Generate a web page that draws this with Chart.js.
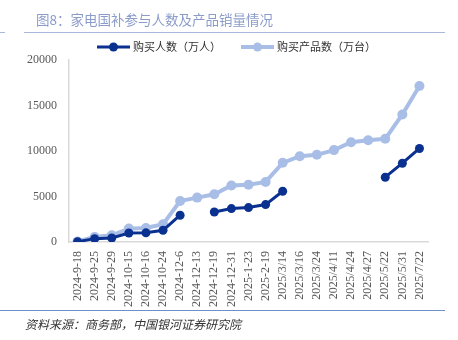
<!DOCTYPE html>
<html>
<head>
<meta charset="utf-8">
<script src="https://cdn.jsdelivr.net/npm/chart.js@4/dist/chart.umd.min.js"></script>
<style>
  html, body { margin: 0; padding: 0; background: #fff; }
  #wrap { position: relative; width: 458px; height: 340px; }
</style>
</head>
<body>
<div id="wrap"><canvas id="c" width="458" height="340"></canvas></div>
<script>
    var dates = ["2024-9-18", "2024-9-25", "2024-9-29", "2024-10-15", "2024-10-16", "2024-10-24",
        "2024-12-6", "2024-12-13", "2024-12-19", "2024-12-31", "2025-1-23", "2025-2-19",
        "2025/3/14", "2025/3/16", "2025/3/24", "2025/4/11", "2025/4/24", "2025/4/27",
        "2025/5/22", "2025/5/31", "2025/7/22"];
    // 购买人数（万人）
    var buyers = [30, 370, 440, 990, 1010, 1290, 2940, null, 3300, 3670, 3780, 4110,
        5580, null, null, null, null, null, 7120, 8660, 10280];
    // 购买产品数（万台）
    var products = [50, 550, 740, 1470, 1540, 1950, 4510, 4880, 5250, 6200, 6300, 6600,
        8700, 9430, 9580, 10100, 10970, 11190, 11340, 14020, 17140];
    var seriesNames = ["购买人数（万人）", "购买产品数（万台）"];
    var yTicks = [0, 5000, 10000, 15000, 20000];

    var DARK = '#0b3190', LIGHT = '#a9bee6';
    var cjk = '"Noto Sans CJK SC", sans-serif';
    var serif = 'Liberation Serif, serif';
    Chart.defaults.font.family = serif;

    // title, rules, source text and legend
    var decor = {
        id: 'decor',
        afterDraw: function (chart) {
            var ctx = chart.ctx;
            ctx.save();
            ctx.fillStyle = '#8b9ccb';
            ctx.font = '13.5px ' + cjk;
            ctx.textBaseline = 'middle';
            ctx.textAlign = 'left';
            ctx.fillText('图8：家电国补参与人数及产品销量情况', 36, 20);

            ctx.strokeStyle = '#aab8dc';
            ctx.lineWidth = 1.2;
            ctx.beginPath();
            ctx.moveTo(0, 32.5); ctx.lineTo(5, 32.5);
            ctx.moveTo(24, 32.5); ctx.lineTo(445, 32.5);
            ctx.stroke();

            ctx.strokeStyle = '#6f8fcc';
            ctx.beginPath();
            ctx.moveTo(0, 310.5); ctx.lineTo(445, 310.5);
            ctx.stroke();

            ctx.fillStyle = '#333';
            ctx.font = 'italic 12px ' + cjk;
            ctx.fillText('资料来源：商务部，中国银河证券研究院', 25, 324);

            // legend
            var items = [[97, DARK, 3, 4.5], [241, LIGHT, 4, 4.5]];
            ctx.font = '11px ' + cjk;
            for (var i = 0; i < items.length; i++) {
                var x = items[i][0], y = 47;
                ctx.strokeStyle = items[i][1];
                ctx.lineWidth = items[i][2];
                ctx.beginPath();
                ctx.moveTo(x, y); ctx.lineTo(x + 33, y);
                ctx.stroke();
                ctx.fillStyle = items[i][1];
                ctx.beginPath();
                ctx.arc(x + 16.5, y, items[i][3], 0, Math.PI * 2);
                ctx.fill();
                ctx.fillStyle = '#333';
                ctx.fillText(seriesNames[i], x + 36, y);
            }
            ctx.restore();
        }
    };

    var ctx = document.getElementById('c').getContext('2d');
    var chart = new Chart(ctx, {
        type: 'line',
        data: {
            labels: dates,
            datasets: [{
                label: seriesNames[0],
                data: buyers,
                borderColor: DARK,
                backgroundColor: DARK,
                borderWidth: 3,
                pointRadius: 4.5,
                pointBorderWidth: 0,
                spanGaps: false
            }, {
                label: seriesNames[1],
                data: products,
                borderColor: LIGHT,
                backgroundColor: LIGHT,
                borderWidth: 4,
                pointRadius: 5,
                pointBorderWidth: 0,
                spanGaps: false
            }]
        },
        options: {
            responsive: false,
            animation: false,
            layout: { padding: { top: 60, right: 30, left: 0, bottom: 0 } },
            plugins: { legend: { display: false }, tooltip: { enabled: false } },
            scales: {
                x: {
                    offset: true,
                    grid: { display: false, drawTicks: false },
                    border: { color: '#d9d9d9', width: 1.5 },
                    afterFit: function (s) { s.height = 98; },
                    ticks: {
                        minRotation: 90, maxRotation: 90, autoSkip: false,
                        padding: 9,
                        color: '#595959',
                        font: { family: serif, size: 12 }
                    }
                },
                y: {
                    min: 0, max: 20000,
                    afterFit: function (s) { s.width = 69; },
                    afterBuildTicks: function (s) { s.ticks = yTicks.map(function (v) { return { value: v }; }); },
                    grid: { display: false, drawTicks: false },
                    border: { color: '#d9d9d9', width: 1.5 },
                    ticks: {
                        padding: 12,
                        color: '#595959',
                        font: { family: serif, size: 12 },
                        callback: function (v) { return String(v); }
                    }
                }
            }
        },
        plugins: [decor]
    });
</script>
</body>
</html>
